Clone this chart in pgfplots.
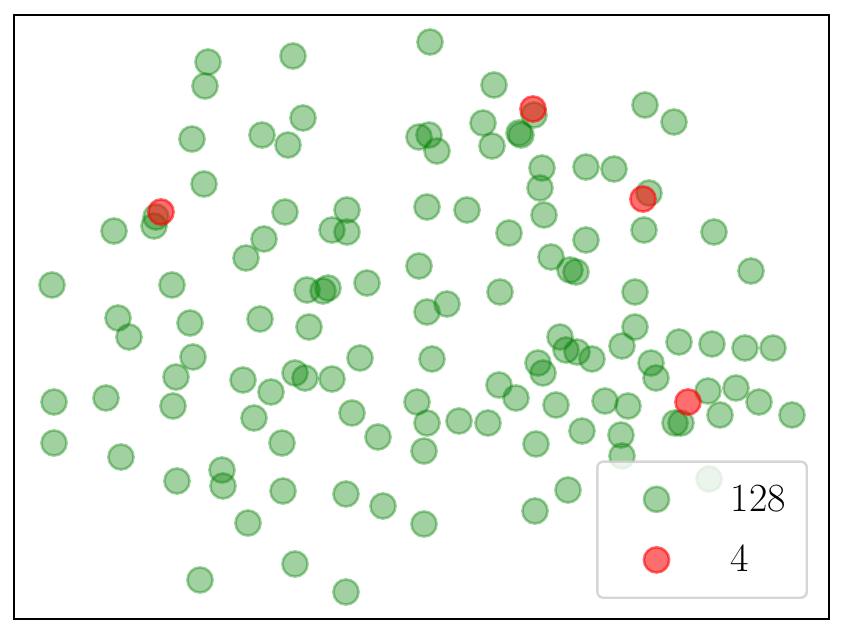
\documentclass[border=0pt]{standalone}
\usepackage{pgfplots}
\pgfplotsset{compat=1.18}
\definecolor{mplgreen}{RGB}{0,128,0}
\definecolor{mplred}{RGB}{255,0,0}
\definecolor{legedge}{RGB}{204,204,204}

\begin{document}
\begin{tikzpicture}
\begin{axis}[name=ax,
  scale only axis, width=407.5pt, height=302pt,
  xmin=14, xmax=829, ymin=15, ymax=619, y dir=reverse,
  xtick=\empty, ytick=\empty,
  axis line style={line width=0.8pt},
  clip=false,
  legend cell align=left,
  legend image code/.code={%
    \path (-18.5pt,0pt) (36.5pt,0pt);
    \draw[mark repeat=2,mark phase=2,#1] plot coordinates {(-1pt,0pt)(0pt,0pt)(1pt,0pt)};},
  legend style={at={(axis description cs:1,0)}, anchor=south east,
    xshift=-10.5pt, yshift=10pt, inner xsep=10.5pt, inner ysep=11.5pt,
    draw=legedge, line width=1.2pt, rounded corners=3pt,
    fill=white, fill opacity=0.8, draw opacity=0.8, text opacity=1,
    font=\fontsize{20}{24}\selectfont, row sep=15.5pt,
    nodes={inner sep=0pt}},
]
\addplot[only marks, mark=*, mark size=6.3pt,
  mark options={line width=1.3pt, draw=mplgreen, fill=mplgreen, draw opacity=0.37, fill opacity=0.37}]
coordinates {
(430,42) (208,62) (293,56) (205,86) (494,85) (534,115) (645,105) (674,122)
(303,118) (262,135) (288,145) (192,139) (419,137) (429,135) (437,151) (483,123)
(492,146) (519,133) (521,135) (542,168) (540,188) (586,167) (614,169) (204,184)
(649,193) (156,217) (154,226) (114,231) (285,212) (347,210) (332,230) (347,232)
(264,239) (246,258) (427,207) (467,210) (509,233) (544,215) (586,240) (644,230)
(714,232) (551,257) (570,270) (576,272) (751,271) (52,285) (172,285) (419,266)
(307,290) (323,291) (328,288) (367,283) (500,292) (635,292) (118,318) (129,337)
(190,323) (260,319) (309,327) (427,312) (447,304) (635,327) (193,357) (176,377)
(243,380) (271,392) (295,373) (305,378) (332,379) (360,358) (432,359) (560,337)
(566,350) (577,352) (592,359) (622,346) (651,363) (656,378) (679,342) (712,344)
(745,348) (773,348) (538,363) (543,373) (54,402) (106,398) (173,406) (254,418)
(352,413) (417,402) (427,423) (459,421) (488,423) (499,385) (516,398) (556,405)
(605,401) (628,406) (675,423) (681,423) (708,391) (720,415) (736,388) (759,402)
(792,415) (54,443) (121,457) (282,443) (378,437) (424,451) (536,444) (582,431)
(621,435) (622,456) (222,470) (223,486) (177,481) (283,491) (346,494) (383,506)
(424,524) (535,511) (568,490) (248,523) (200,580) (295,564) (346,592) (709,479)
};
\addlegendentry{128}
\addplot[only marks, mark=*, mark size=6.3pt,
  mark options={line width=1.3pt, draw=mplred, fill=mplred, draw opacity=0.57, fill opacity=0.57}]
coordinates {(161,212) (533,109) (643,199) (688,402)};
\addlegendentry{4}
\end{axis}
\path ([xshift=-7pt,yshift=-8pt]ax.south west) rectangle ([xshift=7pt,yshift=7.5pt]ax.north east);
\end{tikzpicture}
\end{document}
